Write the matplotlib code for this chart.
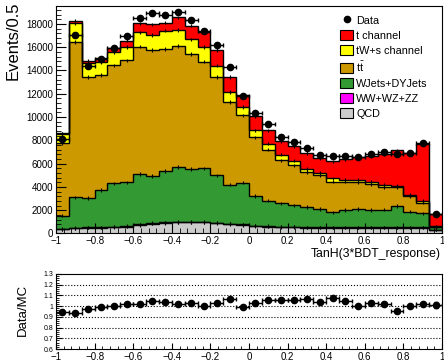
import numpy as np
import matplotlib
matplotlib.use("Agg")
import matplotlib.pyplot as plt
from matplotlib.patches import Patch
from matplotlib.lines import Line2D
from matplotlib.ticker import MultipleLocator, FuncFormatter

plt.rcParams['font.family'] = ['Liberation Sans', 'DejaVu Sans']
plt.rcParams['mathtext.fontset'] = 'custom'
plt.rcParams['mathtext.rm'] = 'Liberation Sans'
plt.rcParams['mathtext.it'] = 'Liberation Sans'

# 30 bins of tanh(3*BDT) between -1 and 1
edges = np.linspace(-1, 1, 31)

qcd = [350, 450, 500, 500, 550, 600, 750, 850, 900, 950, 950, 950, 900, 800, 750,
       650, 600, 550, 550, 500, 500, 500, 500, 500, 500, 500, 500, 500, 500, 330]
diboson = [20, 30, 30, 30, 40, 40, 40, 50, 50, 50, 50, 50, 40, 40, 40,
           30, 30, 30, 30, 30, 30, 20, 20, 20, 20, 20, 20, 20, 20, 10]
wjets = [1170, 2620, 2500, 3210, 3710, 3760, 4330, 4050, 4420, 4720, 4540, 4600, 4050, 3350, 3580,
         2520, 2200, 2010, 1830, 1730, 1560, 1300, 1490, 1570, 1490, 1540, 1830, 1360, 1200, 220]
ttbar = [6230, 13330, 10400, 9860, 10150, 10480, 10930, 10820, 10480, 10390, 9860, 9170, 8440, 7090, 5770,
         5060, 4370, 3690, 3440, 3010, 2900, 2630, 2440, 2310, 2260, 1940, 1610, 1300, 940, 40]
tw_s = [780, 1670, 1220, 1110, 1120, 1120, 1230, 1280, 1570, 1370, 1280, 1230, 990, 860, 720,
        600, 510, 490, 410, 270, 210, 290, 170, 210, 170, 170, 140, 120, 110, 20]
t_chan = [50, 180, 170, 340, 400, 570, 770, 920, 690, 1090, 1170, 1340, 1350, 1290, 1050,
          1200, 1150, 1140, 1220, 1370, 1290, 1460, 1780, 1940, 2180, 2660, 3040, 3650, 4880, 1030]
data = [8100, 17050, 14420, 14970, 15970, 16970, 18480, 18910, 18790, 19000, 18340, 17390, 16220, 14340, 11800,
        10340, 9400, 8330, 7900, 7340, 6740, 6680, 6680, 6550, 6830, 6970, 6800, 6950, 7800, 1670]

samples = [
    ("QCD", qcd, "#cccccc"),
    ("WW+WZ+ZZ", diboson, "#ff00ff"),
    ("WJets+DYJets", wjets, "#339933"),
    (r"$\mathrm{t\bar{t}}$", ttbar, "#cc9900"),
    ("tW+s channel", tw_s, "#ffff00"),
    ("t channel", t_chan, "#ff0000"),
]


def fmt(v, pos):
    v = round(v, 6)
    if v == 0:
        return "0"
    return ("%g" % v).replace("-", "\u2212")


fig = plt.figure(figsize=(4.44, 3.61), dpi=100)
ax1 = fig.add_axes([0.1261, 0.3532, 0.8694, 0.6302])
ax2 = fig.add_axes([0.1261, 0.0332, 0.8694, 0.2078])

centers = 0.5 * (edges[1:] + edges[:-1])
half = 0.5 * np.diff(edges)
data = np.array(data, dtype=float)

# stacked MC
bottom = np.zeros(len(centers))
tops = []
for name, vals, col in samples:
    top = bottom + np.array(vals, dtype=float)
    ax1.stairs(top, edges, baseline=bottom, fill=True, color=col, lw=0, zorder=1)
    tops.append(top)
    bottom = top
total = bottom

for top in tops:
    ax1.stairs(top, edges, baseline=None, color='k', lw=1, zorder=2)
    ax1.vlines(centers, top - 150, top + 150, color='k', lw=0.8, zorder=2)

ax1.errorbar(centers, data, xerr=half, yerr=np.sqrt(data), fmt='o', color='k',
             ms=4.5, elinewidth=1, capsize=1.5, capthick=1, zorder=3)

ax1.set_xlim(-1, 1)
ax1.set_ylim(0, 19540)
ax1.xaxis.set_major_locator(MultipleLocator(0.2))
ax1.xaxis.set_minor_locator(MultipleLocator(0.04))
ax1.yaxis.set_major_locator(MultipleLocator(2000))
ax1.yaxis.set_minor_locator(MultipleLocator(400))
ax1.xaxis.set_major_formatter(FuncFormatter(fmt))
ax1.tick_params(which='both', direction='in', top=False, right=False, labelsize=7, pad=2)
ax1.tick_params(axis='x', pad=1.5)
ax1.tick_params(which='major', length=7)
ax1.tick_params(which='minor', length=3.5)

handles = [Line2D([], [], marker='o', ls='none', color='k', ms=4.5)]
labels = ["Data"]
for name, vals, col in reversed(samples):
    handles.append(Patch(facecolor=col, edgecolor='k', lw=0.8))
    labels.append(name)
ax1.legend(handles, labels, loc='upper left', bbox_to_anchor=(0.7658, 0.9593),
           bbox_transform=fig.transFigure, frameon=False, fontsize=7.8,
           borderpad=0, borderaxespad=0, handlelength=1.2, handleheight=1.1,
           labelspacing=0.38, handletextpad=0.3)

# data / MC
ratio = data / total
ratio_err = np.sqrt(data) / total
for g in [0.7, 0.8, 0.9, 1.0, 1.1, 1.2]:
    ax2.axhline(g, color='k', ls=':', lw=0.8, zorder=0)
ax2.errorbar(centers, ratio, xerr=half, yerr=ratio_err, fmt='o', color='k',
             ms=4.5, elinewidth=1, capsize=1.5, capthick=1)
ax2.set_xlim(-1, 1)
ax2.set_ylim(0.6, 1.3)
ax2.xaxis.set_major_locator(MultipleLocator(0.2))
ax2.xaxis.set_minor_locator(MultipleLocator(0.04))
ax2.yaxis.set_major_locator(MultipleLocator(0.1))
ax2.yaxis.set_minor_locator(MultipleLocator(0.02))
ax2.xaxis.set_major_formatter(FuncFormatter(fmt))
ax2.yaxis.set_major_formatter(FuncFormatter(fmt))
ax2.tick_params(which='both', direction='in', top=False, right=False, pad=2)
ax2.tick_params(axis='x', labelsize=7)
ax2.tick_params(axis='y', labelsize=5)
ax2.tick_params(which='major', length=4)
ax2.tick_params(which='minor', length=2)

fig.text(441 / 444, 1 - 254 / 361, "TanH(3*BDT_response)", ha='right', va='center', fontsize=8.8)
fig.text(13 / 444, 1 - 1 / 361, "Events/0.5", rotation=90, ha='center', va='top', fontsize=12)
fig.text(23 / 444, 1 - 310 / 361, "Data/MC", rotation=90, ha='center', va='center', fontsize=9.5)

fig.savefig("out.png", dpi=100)
